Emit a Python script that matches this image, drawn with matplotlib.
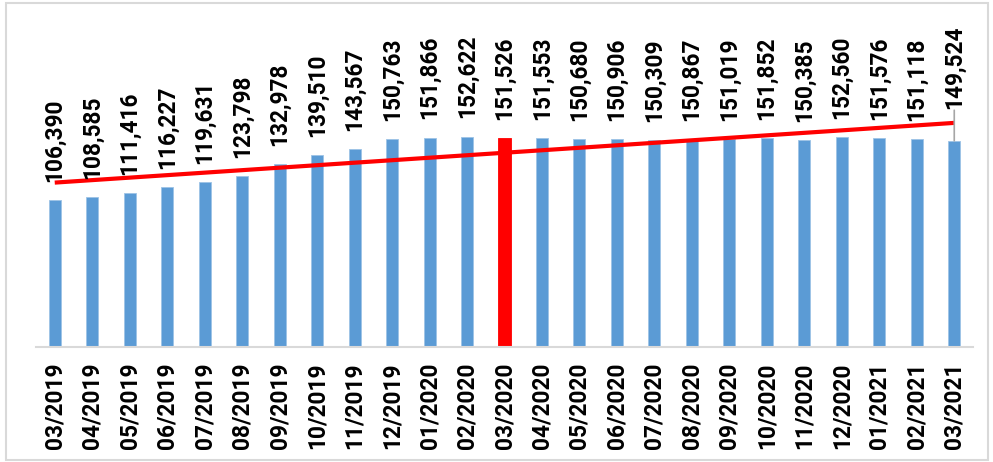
import numpy as np
import matplotlib.pyplot as plt
from matplotlib.patches import Rectangle

months = ['03/2019', '04/2019', '05/2019', '06/2019', '07/2019', '08/2019', '09/2019',
          '10/2019', '11/2019', '12/2019', '01/2020', '02/2020', '03/2020', '04/2020',
          '05/2020', '06/2020', '07/2020', '08/2020', '09/2020', '10/2020', '11/2020',
          '12/2020', '01/2021', '02/2021', '03/2021']
values = [106390, 108585, 111416, 116227, 119631, 123798, 132978, 139510, 143567,
          150763, 151866, 152622, 151526, 151553, 150680, 150906, 150309, 150867,
          151019, 151852, 150385, 152560, 151576, 151118, 149524]
highlight = '03/2020'

blue = '#5B9BD5'
red = '#FF0000'

fig = plt.figure(figsize=(9.93, 4.62), dpi=100)
ax = fig.add_axes([36/993, 115/462, 937/993, 331/462])

x = np.arange(len(months))
colors = [red if m == highlight else blue for m in months]
widths = [0.36 if m == highlight else 0.32 for m in months]
ax.bar(x, values, width=widths, color=colors,
       edgecolor=['#FF0000' if m == highlight else '#9DC3E6' for m in months], linewidth=0.6)

# linear trend line (like excel trendline)
k, b = np.polyfit(x, values, 1)
ax.plot(x, k*x + b, color=red, linewidth=3, zorder=3, solid_capstyle='butt')

font = dict(family=['Roboto', 'DejaVu Sans'], weight='bold', size=16.3)
for i, v in enumerate(values):
    off = 13
    if i == len(values) - 1:
        off = 23
        ax.annotate('', xy=(i, v), xytext=(0, 22), textcoords='offset points',
                    arrowprops=dict(arrowstyle='-', color='#A6A6A6', lw=1.2,
                                    shrinkA=0, shrinkB=0))
    ax.annotate(f'{v:,}', (i, v), xytext=(0, off), textcoords='offset points',
                rotation=90, ha='center', va='bottom', **font)

ax.set_xlim(-0.5, len(months) - 0.5)
ax.set_ylim(0, 240000)
ax.set_xticks(x)
ax.set_xticklabels(months, rotation=90, **font)
ax.tick_params(axis='x', length=0, pad=11)
ax.set_yticks([])
for s in ['top', 'right', 'left']:
    ax.spines[s].set_visible(False)
ax.spines['bottom'].set_color('#D9D9D9')
ax.spines['bottom'].set_linewidth(1.5)

fig.patches.append(Rectangle((6/993, 2/462), 982/993, 457/462, transform=fig.transFigure,
                             fill=False, edgecolor='#D9D9D9', linewidth=1.5))

fig.savefig('out.png', dpi=100)
